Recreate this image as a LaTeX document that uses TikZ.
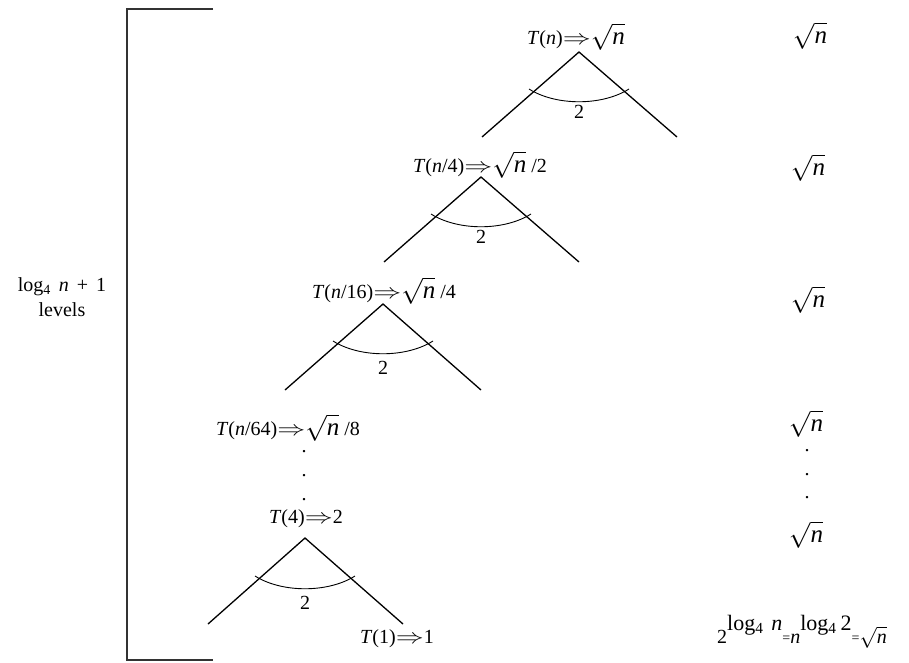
\documentclass[tikz,border=0pt]{standalone}
\usepackage{fontspec}
\setmainfont{Liberation Serif}
\usetikzlibrary{positioning}

\newcommand{\rtn}{\scalebox{1.25}{$\sqrt{\textit{n}}$}}
\newcommand{\rtnsmall}{$\sqrt{\textit{n}}$}
\newcommand{\imp}{\scalebox{1.35}[1]{$\Rightarrow$}}
\newcommand{\lgfour}{log\textsubscript{4}}
\newcommand{\supr}[1]{\raisebox{13pt}{\fontsize{22}{22}\selectfont#1}}
\newcommand{\eqs}{\raisebox{1pt}{\fontsize{14}{14}\selectfont=}}

\begin{document}
\begin{tikzpicture}[
  x=1pt,y=-1pt,
  every node/.style={font=\fontsize{20}{25}\selectfont,inner sep=0pt},
  lbl/.style={anchor=base},
  leg/.style={draw=black,line width=1.3pt},
  turn/.style={draw=black,line width=.9pt},
  bracket/.style={draw=black!80,line width=1.3pt}
]
  \useasboundingbox (0,0) rectangle (909,662);
  % bracket on the left
  \coordinate (bt) at (213,9);
  \coordinate (bt0) at (127,9);
  \coordinate (bb0) at (127,660);
  \coordinate (bb) at (213,660);
  \draw[bracket] (bt)--(bt0)--(bb0)--(bb);
  \node[lbl,align=center] (lev) at (62,316)
    {\lgfour\hspace{8pt}\textit{n}\hspace{8pt}+\hspace{8pt}1\\levels};
  % level 0
  \coordinate (a1) at (579,52);
  \coordinate (l1) at (482,137);
  \coordinate (r1) at (677,137);
  \coordinate (al1) at (529,89);
  \coordinate (ar1) at (629,89);
  \draw[leg] (l1)--(a1)--(r1);
  \draw[turn] (al1) .. controls (556,106) and (602,106) .. (ar1);
  \node (k1) at (579,112) {2};
  \node[lbl] (t1) at (576,44) {\textit{T}(\textit{n})\imp\rtn};
  % level 1
  \coordinate (a2) at (481,177);
  \coordinate (l2) at (384,262);
  \coordinate (r2) at (579,262);
  \coordinate (al2) at (431,214);
  \coordinate (ar2) at (531,214);
  \draw[leg] (l2)--(a2)--(r2);
  \draw[turn] (al2) .. controls (458,231) and (504,231) .. (ar2);
  \node (k2) at (481,237) {2};
  \node[lbl] (t2) at (480,172) {\textit{T}(\textit{n}/4)\imp\rtn\ /2};
  % level 2
  \coordinate (a3) at (383,304);
  \coordinate (l3) at (285,390);
  \coordinate (r3) at (481,390);
  \coordinate (al3) at (333,341);
  \coordinate (ar3) at (433,341);
  \draw[leg] (l3)--(a3)--(r3);
  \draw[turn] (al3) .. controls (360,358) and (406,358) .. (ar3);
  \node (k3) at (383,368) {2};
  \node[lbl] (t3) at (384,298) {\textit{T}(\textit{n}/16)\imp\rtn\ /4};
  % level 3 and the dots
  \node[lbl] (t4) at (288,435) {\textit{T}(\textit{n}/64)\imp\rtn\ /8};
  \node[lbl] (d1) at (304,452) {.};
  \node[lbl] (d2) at (304,476) {.};
  \node[lbl] (d3) at (304,500) {.};
  % last split
  \coordinate (a5) at (305,538);
  \coordinate (l5) at (208,624);
  \coordinate (r5) at (403,624);
  \coordinate (al5) at (255,576);
  \coordinate (ar5) at (355,576);
  \draw[leg] (l5)--(a5)--(r5);
  \draw[turn] (al5) .. controls (282,593) and (328,593) .. (ar5);
  \node (k5) at (305,603) {2};
  \node[lbl] (t5) at (306,523) {\textit{T}(4)\imp2};
  \node[lbl] (t6) at (397,643) {\textit{T}(1)\imp1};
  % cost per level
  \node[lbl] (c1) at (810,43) {\rtn};
  \node[lbl] (c2) at (808,175) {\rtn};
  \node[lbl] (c3) at (808,307) {\rtn};
  \node[lbl] (c4) at (806,431) {\rtn};
  \node[lbl] (e1) at (807,451) {.};
  \node[lbl] (e2) at (807,475) {.};
  \node[lbl] (e3) at (807,498) {.};
  \node[lbl] (c5) at (806,542) {\rtn};
  \node[lbl] (sum) at (802,643)
    {2\supr{\lgfour\hspace{8pt}\textit{n}}\eqs\textit{n}\supr{\lgfour\hspace{4pt}2}\eqs\rtnsmall};
\end{tikzpicture}
\end{document}
